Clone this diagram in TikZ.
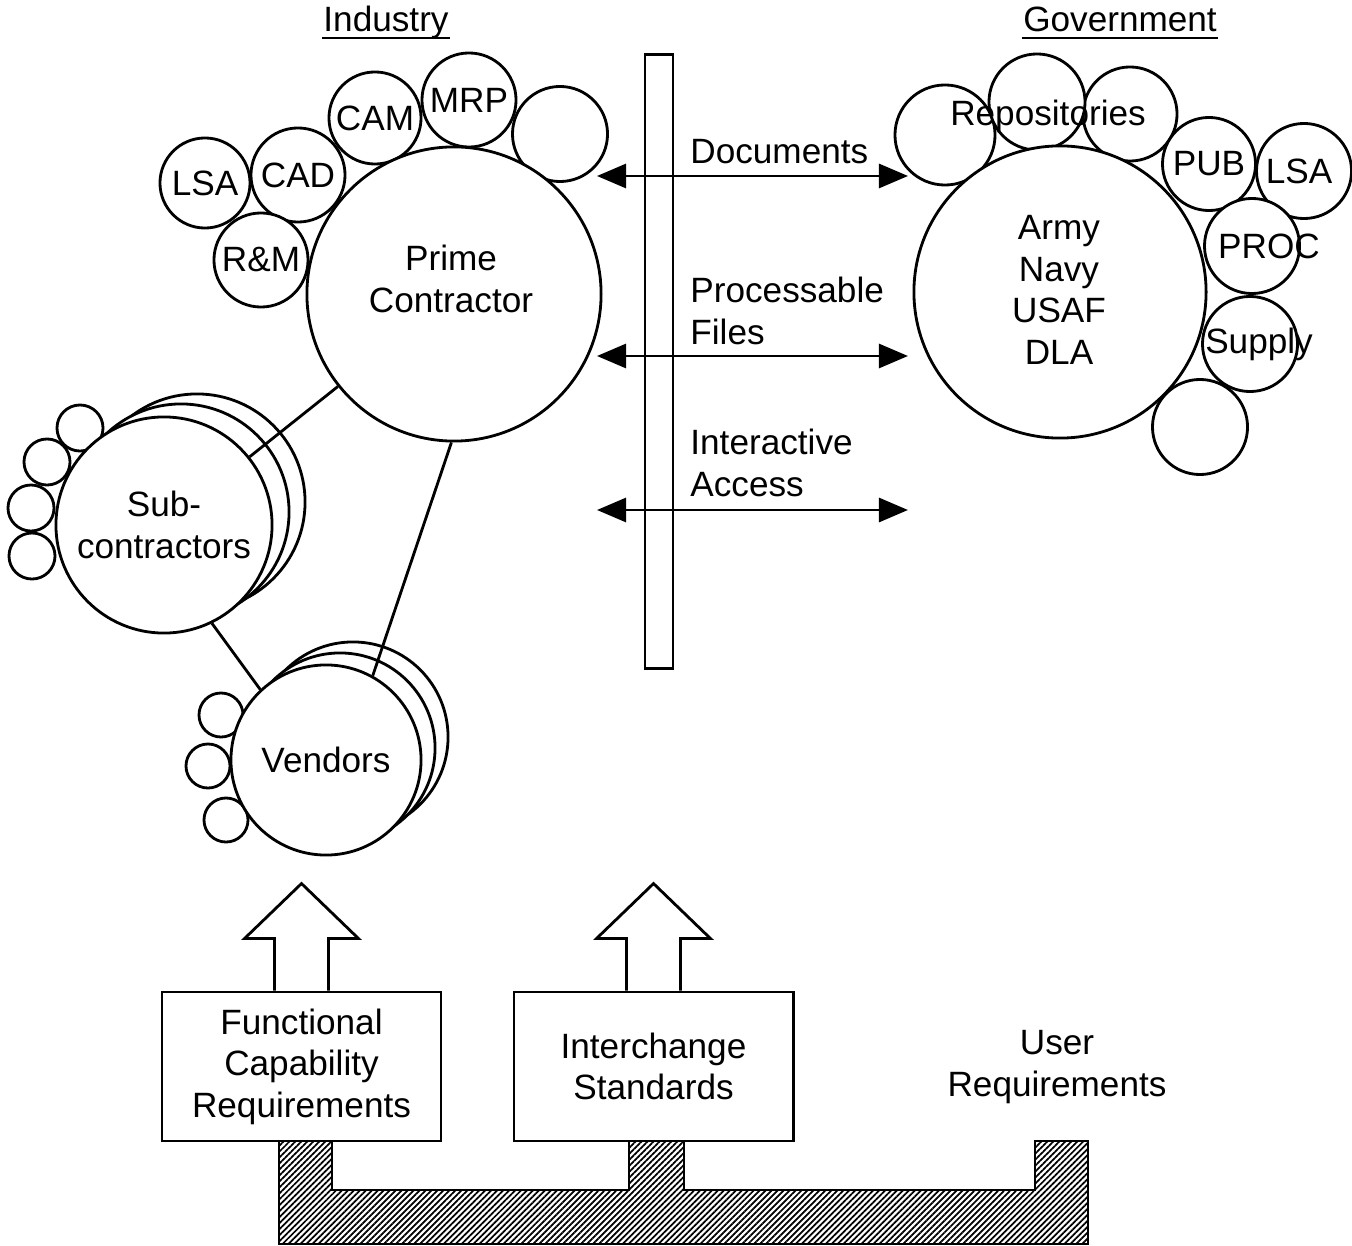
\documentclass[tikz,border=0pt]{standalone}
\usepackage{fontspec}
\setmainfont{Liberation Sans}
\usetikzlibrary{arrows.meta,patterns.meta}

\tikzset{
  bub/.style={circle, draw, fill=white, inner sep=0pt, align=center, minimum size=#1},
  box/.style={draw, fill=white, inner sep=0pt, align=center,
    minimum width=2.79cm, minimum height=1.49cm},
  txt/.style={inner sep=0pt, align=center},
  lbl/.style={inner sep=0pt, align=left, anchor=west},
  flow/.style={{Triangle[length=2.9mm,width=2.4mm]}-{Triangle[length=2.9mm,width=2.4mm]}},
  uline/.style={line width=0.6pt},
  uparrow/.pic={
    \draw[fill=white] (-27,0) -- (-27,-52) -- (-57,-52) -- (0,-107)
      -- (57,-52) -- (27,-52) -- (27,0);
  },
}

\begin{document}
\begin{tikzpicture}[x=0.01cm, y=-0.01cm, line width=0.8pt,
    every node/.append style={font=\fontsize{10}{11.8}\selectfont}]
  \useasboundingbox (0,0) rectangle (1352,1246);

  % headings
  \node[txt, anchor=base] (ind) at (386,32) {Industry};
  \node[txt, anchor=base] (gov) at (1120,32) {Government};
  \draw[uline] ([yshift=-0.6mm]ind.base west) -- ([yshift=-0.6mm]ind.base east);
  \draw[uline] ([yshift=-0.6mm]gov.base west) -- ([yshift=-0.6mm]gov.base east);

  % industry side
  \node[bub=0.90cm, label=center:LSA] (plsa) at (205,183) {};
  \node[bub=0.94cm, label=center:CAD] (cad) at (298,175) {};
  \node[bub=0.92cm, label=center:CAM] (cam) at (375,118) {};
  \node[bub=0.94cm, label=center:MRP] (mrp) at (469,100) {};
  \node[bub=0.95cm] (pxtra) at (560,134) {};
  \node[bub=0.94cm, label=center:R\&M] (rm) at (261,260) {};
  \node[bub=2.94cm] (prime) at (454,294) {};
  \node[txt] (primetxt) at (451,279) {Prime\\Contractor};

  % government side
  \node[bub=1.00cm] (repl) at (945,135) {};
  \node[bub=0.94cm] (repr) at (1130,114) {};
  \node[bub=0.96cm] (repm) at (1037,102) {};
  \node[bub=0.93cm, label=center:PUB] (pub) at (1209,164) {};
  \node[bub=0.95cm, label={[xshift=-0.05cm]center:LSA}] (glsa) at (1304,171) {};
  \node[bub=0.95cm, label={[xshift=0.17cm]center:PROC}] (proc) at (1252,246) {};
  \node[bub=0.95cm, label={[xshift=0.09cm]center:Supply}] (supply) at (1250,344) {};
  \node[bub=0.95cm] (gxtra) at (1200,427) {};
  \node[bub=2.92cm] (govc) at (1060,292) {};
  \node[txt] (govtxt) at (1059,290) {Army\\Navy\\USAF\\DLA};
  \node[txt] (reptxt) at (1048,116) {Repositories};

  % subcontractors
  \foreach \x/\y [count=\n] in {80/428, 47/462, 31/508, 32/556}
    \node[bub=0.46cm] (subs\n) at (\x,\y) {};
  \node[bub=2.16cm] (subb) at (197,502) {};
  \node[bub=2.16cm] (suba) at (181,512) {};
  \node[bub=2.16cm] (sub) at (164,525) {Sub-\\contractors};

  % vendors
  \foreach \x/\y [count=\n] in {221/715, 208/766, 226/820}
    \node[bub=0.44cm] (vends\n) at (\x,\y) {};
  \node[bub=1.90cm] (vendb) at (353,737) {};
  \node[bub=1.90cm] (venda) at (340,748) {};
  \node[bub=1.90cm] (vend) at (326,760) {Vendors};

  \draw (prime) -- (sub);
  \draw (sub.-64) -- (vend.133);
  \draw (prime.-91) -- (vend.61);

  % interface bar and flows
  \node[draw, inner sep=0pt, minimum width=0.28cm, minimum height=6.13cm] (bar) at (659,361.5) {};
  \coordinate (docl) at (597,176);
  \coordinate (docr) at (908,176);
  \coordinate (pfl) at (597,356);
  \coordinate (pfr) at (908,356);
  \coordinate (ial) at (597,510);
  \coordinate (iar) at (908,510);
  \draw[flow] (docl) -- (docr);
  \draw[flow] (pfl) -- (pfr);
  \draw[flow] (ial) -- (iar);
  \node[lbl] (doc) at (689,152) {Documents};
  \node[lbl] (pf) at (689,311) {Processable\\Files};
  \node[lbl] (ia) at (689,463) {Interactive\\Access};

  % requirements
  \node[box] (fcr) at (301.5,1066.5) {Functional\\Capability\\Requirements};
  \node[box] (ist) at (653.5,1066.5) {Interchange\\Standards};
  \node[txt] (usr) at (1057,1067) {User\\Requirements};
  \pic at (fcr.north) {uparrow};
  \pic at (ist.north) {uparrow};
  \draw[pattern={Lines[angle=45,distance=1.2pt,line width=0.5pt]}]
    (279,1141) -- (279,1244) -- (1088,1244) -- (1088,1141) -- (1035,1141)
    -- (1035,1190) -- (684,1190) -- (684,1141) -- (629,1141) -- (629,1190)
    -- (332,1190) -- (332,1141) -- cycle;
\end{tikzpicture}
\end{document}
